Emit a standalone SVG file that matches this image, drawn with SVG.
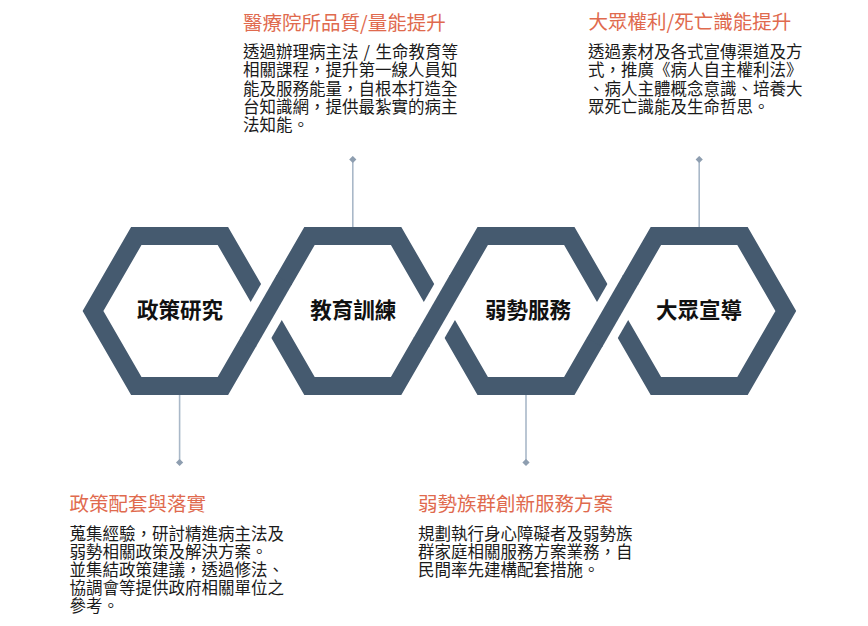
<svg xmlns="http://www.w3.org/2000/svg" width="868" height="626" viewBox="0 0 868 626">
<defs>
<style>
.hex{fill:none;stroke:#455A6F;stroke-width:18;stroke-linejoin:miter;stroke-miterlimit:10}
.halo{stroke:#FFFFFF;stroke-width:36;stroke-linecap:butt}
.band{stroke:#455A6F;stroke-width:18;stroke-linecap:butt}
.lbl{font-family:"Noto Sans CJK TC","Noto Sans CJK SC",sans-serif;font-size:21.5px;font-weight:bold;fill:#111111;text-anchor:middle}
.ttl{font-family:"Noto Sans CJK TC","Noto Sans CJK SC",sans-serif;font-size:19.5px;fill:#E06A4E}
.body{font-family:"Noto Sans CJK TC","Noto Sans CJK SC",sans-serif;font-size:16.5px;fill:#1A1A1A}
.conn{fill:none;stroke:#A9B8C8;stroke-width:1.6;marker-end:url(#dia)}
</style>
<marker id="dia" viewBox="-5 -5 10 10" markerWidth="8" markerHeight="8" refX="0" refY="0" markerUnits="userSpaceOnUse" orient="auto">
<path d="M0,-4.5 L4.5,0 L0,4.5 L-4.5,0 Z" fill="#8E9EB0"/>
</marker>
</defs>
<rect width="868" height="626" fill="#FFFFFF"/>

<g id="connectors">
<path class="conn" d="M352.8,227 V159.5"/>
<path class="conn" d="M699.2,227 V159.5"/>
<path class="conn" d="M179.6,395 V462.5"/>
<path class="conn" d="M526,395 V462.5"/>
</g>

<g id="chain">
<g id="hex-policy">
<polygon class="hex" points="93,311 136.3,236 222.9,236 266.2,311 222.9,386 136.3,386"/>
</g>
<g id="hex-education">
<polygon class="hex" points="266.2,311 309.5,236 396.1,236 439.4,311 396.1,386 309.5,386"/>
</g>
<g id="hex-service">
<polygon class="hex" points="439.4,311 482.7,236 569.3,236 612.6,311 569.3,386 482.7,386"/>
</g>
<g id="hex-advocacy">
<polygon class="hex" points="612.6,311 655.9,236 742.5,236 785.8,311 742.5,386 655.9,386"/>
</g>
<g id="crossings">
<line class="halo" x1="248.7" y1="341.3" x2="283.7" y2="280.7"/>
<line class="band" x1="248.2" y1="342.2" x2="284.2" y2="279.8"/>
<line class="halo" x1="421.9" y1="341.3" x2="456.9" y2="280.7"/>
<line class="band" x1="421.4" y1="342.2" x2="457.4" y2="279.8"/>
<line class="halo" x1="595.1" y1="341.3" x2="630.1" y2="280.7"/>
<line class="band" x1="594.6" y1="342.2" x2="630.6" y2="279.8"/>
</g>
</g>

<g id="labels">
<text class="lbl" x="180" y="318">政策研究</text>
<text class="lbl" x="353.3" y="318">教育訓練</text>
<text class="lbl" x="528" y="318">弱勢服務</text>
<text class="lbl" x="699" y="318">大眾宣導</text>
</g>

<g id="note-top-middle">
<text class="ttl" x="243" y="29.7">醫療院所品質/量能提升</text>
<text class="body" x="243" y="58">透過辦理病主法<tspan x="363.5">/</tspan><tspan x="375.5">生命教育等</tspan><tspan x="243" dy="18.3">相關課程，提升第一線人員知</tspan><tspan x="243" dy="18.3">能及服務能量，自根本打造全</tspan><tspan x="243" dy="18.3">台知識網，提供最紮實的病主</tspan><tspan x="243" dy="18.3">法知能。</tspan></text>
</g>

<g id="note-top-right">
<text class="ttl" x="588.5" y="29.2">大眾權利/死亡識能提升</text>
<text class="body" x="588" y="58">透過素材及各式宣傳渠道及方<tspan x="588" dy="18.3">式，推廣《病人自主權利法》</tspan><tspan x="588" dy="18.3">、病人主體概念意識、培養大</tspan><tspan x="588" dy="18.3">眾死亡識能及生命哲思。</tspan></text>
</g>

<g id="note-bottom-left">
<text class="ttl" x="69.5" y="511">政策配套與落實</text>
<text class="body" x="69.5" y="539.6">蒐集經驗，研討精進病主法及<tspan x="69.5" dy="18.2">弱勢相關政策及解決方案。</tspan><tspan x="69.5" dy="18.2">並集結政策建議，透過修法、</tspan><tspan x="69.5" dy="18.2">協調會等提供政府相關單位之</tspan><tspan x="69.5" dy="18.2">參考。</tspan></text>
</g>

<g id="note-bottom-middle">
<text class="ttl" x="418" y="510.5">弱勢族群創新服務方案</text>
<text class="body" x="418" y="539.6">規劃執行身心障礙者及弱勢族<tspan x="418" dy="18.2">群家庭相關服務方案業務，自</tspan><tspan x="418" dy="18.2">民間率先建構配套措施。</tspan></text>
</g>
</svg>
